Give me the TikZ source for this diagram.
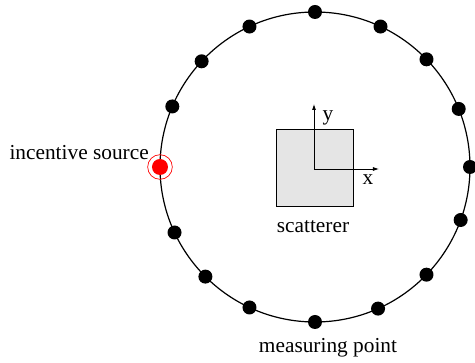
\documentclass[tikz,border=0pt]{standalone}
\usepackage{fontspec}
\setmainfont{Liberation Serif}
\usetikzlibrary{arrows.meta}

\begin{document}
\begin{tikzpicture}[
  >=Latex,
  x=0.75pt,
  y=0.75pt,
  every node/.style={font=\fontsize{16}{19}\selectfont, inner sep=0pt},
  array/.style={
    draw,
    circle,
    line width=0.9pt,
    outer sep=0pt,
    minimum size=232.5pt
  },
  probe/.style={circle, fill=black, minimum size=10.5pt},
  source/.style={circle, fill=red, minimum size=12pt},
  halo/.style={circle, draw=red, line width=0.5pt, minimum size=18.5pt},
  body/.style={
    draw,
    fill=gray!20,
    line width=0.6pt,
    minimum size=57.75pt
  },
  axis/.style={-{Latex[length=4.5pt, width=3pt]}, line width=0.6pt}
]
\useasboundingbox (-315,-196) rectangle (160,167);

\node[array] (ring) at (0,0) {};
\node[body] (scat) at (0,-1) {};

% measuring points on the ring
\foreach \a in {0,22,44,65,90,115,137,157,205,225,245,270,294,316,340}
  \node[probe] (p\a) at (ring.\a) {};

\node[halo] (halo) at (ring.180) {};
\node[source] (src) at (ring.180) {};

% local frame
\coordinate (o) at (-1,-2);
\coordinate (xtip) at (64,-2);
\coordinate (ytip) at (-1,63);
\draw[axis] (o) -- (xtip);
\draw[axis] (o) -- (ytip);
\node (xlab) at (53,-13) {x};
\node (ylab) at (13,49) {y};

\node (scatlab) at (-2,-60) {scatterer};
\node[anchor=east] (srclab) at (-166,14) {incentive source};
\node (measlab) at (13,-181) {measuring point};

\end{tikzpicture}
\end{document}
